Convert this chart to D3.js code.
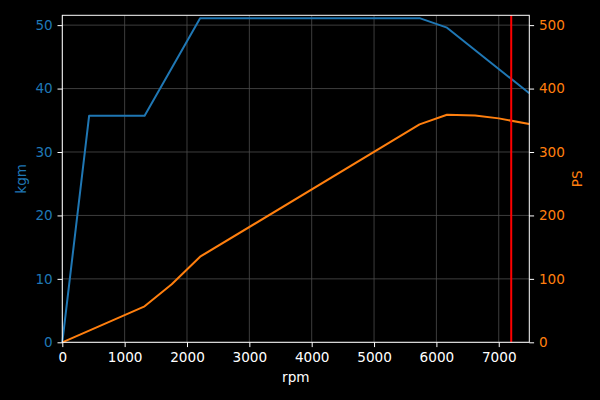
<!DOCTYPE html>
<html>
<head>
<meta charset="utf-8">
<script src="https://cdn.jsdelivr.net/npm/d3@7"></script>
<style>
  html, body { margin: 0; padding: 0; background: #000; }
  svg { display: block; font-family: "DejaVu Sans", sans-serif; }
</style>
</head>
<body>
<svg id="chart" width="600" height="400"></svg>
<script>
// Data
const torqueRpm = [0, 430, 1320, 2210, 5730, 6170, 7490];
const torqueKgm = [0, 35.7, 35.7, 51.1, 51.1, 49.6, 39.25];
const powerRpm = [0, 1320, 1755, 2210, 5730, 6170, 6620, 7000, 7490];
const powerPS = [0, 56.7, 91.4, 134.9, 343.5, 358.7, 357.7, 353, 344];
const redlineRpm = 7200;
const xTicks = [0, 1000, 2000, 3000, 4000, 5000, 6000, 7000];
const kgmTicks = [0, 10, 20, 30, 40, 50];
const psTicks = [0, 100, 200, 300, 400, 500];

const blue = "#1f77b4", orange = "#ff7f0e";
const svg = d3.select("#chart");
const L = 62.3, R = 529.3, T = 15.3, B = 342.3;
const FS = "13.6px";

const x = d3.scaleLinear().domain([0, 7490]).range([L, R]);
const yL = d3.scaleLinear().domain([0, 51.55]).range([B, T]);
const yR = d3.scaleLinear().domain([0, 515.5]).range([B, T]);

svg.append("rect").attr("width", 600).attr("height", 400).attr("fill", "#000");

// grid
const grid = svg.append("g").attr("stroke", "#4d4d4d").attr("stroke-width", 0.8);
xTicks.forEach(t => grid.append("line").attr("x1", x(t)).attr("x2", x(t)).attr("y1", T).attr("y2", B));
kgmTicks.forEach(t => grid.append("line").attr("x1", L).attr("x2", R).attr("y1", yL(t)).attr("y2", yL(t)));

// lines
const lineT = d3.line().x((d, i) => x(torqueRpm[i])).y(d => yL(d));
svg.append("path").datum(torqueKgm).attr("d", lineT).attr("fill", "none")
  .attr("stroke", blue).attr("stroke-width", 2).attr("stroke-linejoin", "round");

const lineP = d3.line().x((d, i) => x(powerRpm[i])).y(d => yR(d));
svg.append("path").datum(powerPS).attr("d", lineP).attr("fill", "none")
  .attr("stroke", orange).attr("stroke-width", 2).attr("stroke-linejoin", "round");

svg.append("line").attr("x1", x(redlineRpm)).attr("x2", x(redlineRpm))
  .attr("y1", T).attr("y2", B).attr("stroke", "red").attr("stroke-width", 2);

// axes
function styleAxis(g, color) {
  g.select(".domain").remove();
  g.selectAll(".tick line").attr("stroke", "#fff").attr("stroke-width", 1);
  g.selectAll(".tick text").attr("fill", color).attr("font-size", FS)
    .attr("font-family", "DejaVu Sans");
}
const gx = svg.append("g").attr("transform", `translate(0,${B})`)
  .call(d3.axisBottom(x).tickValues(xTicks).tickSize(4.8).tickPadding(4.8).tickFormat(d3.format("d")));
styleAxis(gx, "#fff");
const gl = svg.append("g").attr("transform", `translate(${L},0)`)
  .call(d3.axisLeft(yL).tickValues(kgmTicks).tickSize(4.8).tickPadding(4.8).tickFormat(d3.format("d")));
styleAxis(gl, blue);
const gr = svg.append("g").attr("transform", `translate(${R},0)`)
  .call(d3.axisRight(yR).tickValues(psTicks).tickSize(4.8).tickPadding(4.8).tickFormat(d3.format("d")));
styleAxis(gr, orange);

// frame
svg.append("rect").attr("x", L).attr("y", T).attr("width", R - L).attr("height", B - T)
  .attr("fill", "none").attr("stroke", "#fff").attr("stroke-width", 1);

// labels
svg.append("text").attr("x", (L + R) / 2).attr("y", 382).attr("text-anchor", "middle")
  .attr("fill", "#fff").attr("font-size", FS).text("rpm");
svg.append("text").attr("transform", `translate(26,${(T + B) / 2}) rotate(-90)`)
  .attr("text-anchor", "middle").attr("fill", blue).attr("font-size", FS).text("kgm");
svg.append("text").attr("transform", `translate(582,${(T + B) / 2}) rotate(-90)`)
  .attr("text-anchor", "middle").attr("fill", orange).attr("font-size", FS).text("PS");
</script>
</body>
</html>
